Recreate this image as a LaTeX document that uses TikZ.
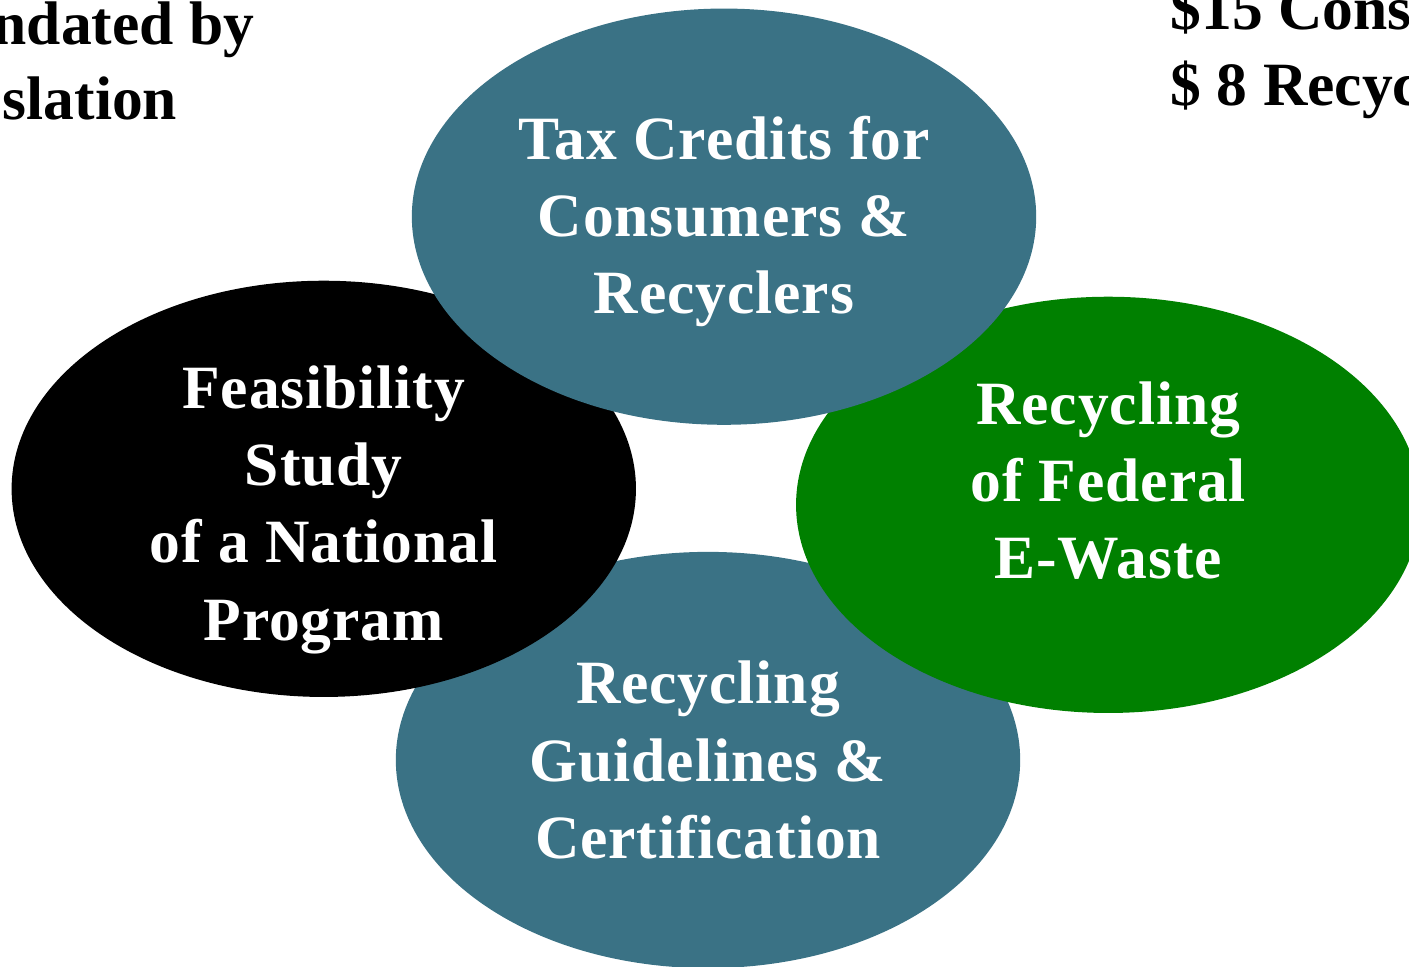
\documentclass[tikz,border=0pt]{standalone}
\usepackage{fontspec}
\setmainfont{Liberation Serif}
\usetikzlibrary{positioning, shapes.geometric}

\definecolor{tealblue}{RGB}{58,114,133}
\definecolor{leafgreen}{RGB}{0,128,0}

\begin{document}
\begin{tikzpicture}[x=0.01cm, y=-0.01cm, on grid,
    blob/.style={ellipse, minimum width=6.24cm, minimum height=4.16cm, inner xsep=0pt, inner ysep=-12pt,
        text=white, align=center,
        font=\fontsize{17.5}{22}\selectfont\bfseries\addfontfeature{LetterSpace=1.5}},
    note/.style={anchor=base west, inner sep=0pt, font=\fontsize{17.5}{22}\selectfont\bfseries}]
                \path[use as bounding box, clip] (0,0) rectangle (1409,967);
                
                % bottom one first, the others lie over it
                \node[blob, fill=tealblue] (B) at (708,760) {Recycling\\Guidelines \&\\Certification};
                \node[blob, fill=black, above left=2.71cm and 3.84cm of B] (L) {\rule{0pt}{24pt}Feasibility\\Study\\of a National\\Program};
                \node[blob, fill=leafgreen, above right=2.55cm and 4cm of B] (R) {Recycling\\of Federal\\E-Waste\rule[-14pt]{0pt}{14pt}};
                \node[blob, fill=tealblue, above right=2.72cm and 4cm of L] (T) {\rule{0pt}{15pt}Tax Credits for\\Consumers \&\\Recyclers};
                
                \node[note] (m1) at (-8,45) {ndated by};
                \node[note] (m2) at (2,120) {slation};
                \node[note] (c1) at (1170,30) {\$15 Cons};
                \node[note] (c2) at (1170,106) {\$ 8 Recyc};
              \end{tikzpicture}
\end{document}
